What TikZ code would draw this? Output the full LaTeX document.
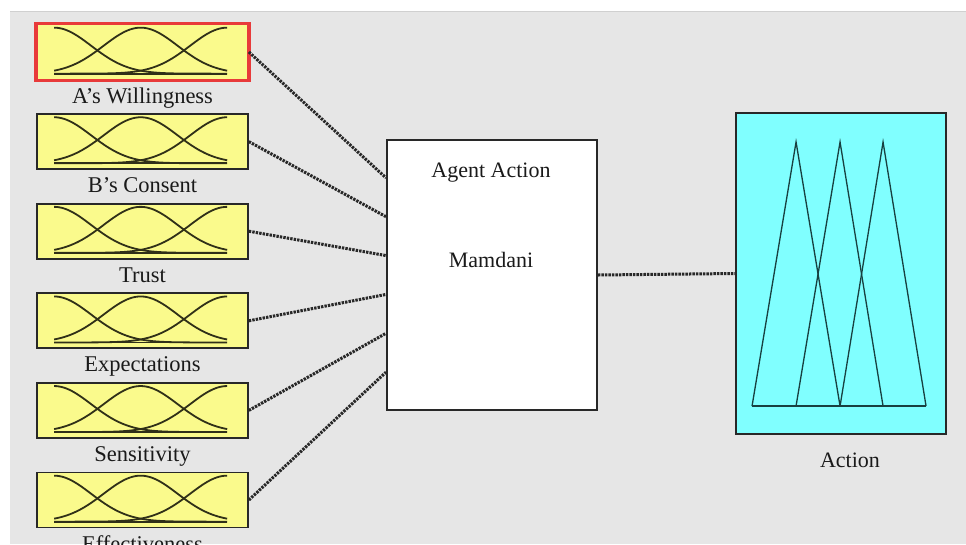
\documentclass[tikz,border=0pt]{standalone}
\usepackage{fontspec}
\setmainfont{Liberation Serif}
\usetikzlibrary{calc}
\definecolor{panel}{RGB}{230,230,230}
\definecolor{panelrule}{RGB}{208,208,208}
\definecolor{mfyellow}{RGB}{250,250,140}
\definecolor{mfcyan}{RGB}{128,255,255}
\definecolor{mfline}{RGB}{48,48,24}
\definecolor{tealline}{RGB}{24,64,64}
\definecolor{frame}{RGB}{40,40,40}
\definecolor{selred}{RGB}{232,58,58}
\definecolor{ink}{RGB}{26,26,26}
\begin{document}
\begin{tikzpicture}[x=1pt,y=-1pt,
  inbox/.style={draw=frame, line width=1.7pt, fill=mfyellow, minimum width=211pt, minimum height=55pt, inner sep=0pt},
  selbox/.style={draw=selred, line width=3.6pt},
  fisbox/.style={draw=frame, line width=1.9pt, fill=white, minimum width=210pt, minimum height=270pt, inner sep=0pt},
  outbox/.style={draw=frame, line width=1.9pt, fill=mfcyan, minimum width=210pt, minimum height=321pt, inner sep=0pt},
  lbl/.style={text=ink, font=\fontsize{22.5}{26}\selectfont, anchor=base, inner sep=0pt},
  conn/.style={draw=frame, line width=3pt, dash pattern=on 2.4pt off 1.1pt},
  mf/.style={draw=mfline, line width=1.8pt},
  tri/.style={draw=tealline, line width=1.3pt, line join=miter}]

% canvas
\useasboundingbox (0,0) rectangle (966,544);
\fill[white] (0,0) rectangle (966,544);
\fill[panel] (10,11) rectangle (966,544);
\draw[panelrule, line width=1pt] (10,11.5) -- (966,11.5);

% input variables with their Gaussian membership functions
\foreach \i/\yc/\lab in {1/52/{A’s Willingness}, 2/141.6/{B’s Consent}, 3/231.2/{Trust},
                         4/320.8/{Expectations}, 5/410.4/{Sensitivity}, 6/500/{Effectiveness}} {
  \node[inbox] (in\i) at (142.5,\yc) {};
  \node[lbl] (lab\i) at (142.5,\yc+51) {\lab};
  \begin{scope}[shift={(in\i.north west)}]
    \foreach \c in {18,104.5,191} {
      \draw[mf] plot[domain=18:191, samples=70, smooth] (\x, {50 - 46*exp(-(((\x-\c)/52.33)^2))});
    }
    \draw[mfline, line width=1.8pt] (18,50) -- (191,50);
  \end{scope}
}
% the selected input
\draw[selbox] (in1.north west) rectangle (in1.south east);

% inference system
\node[fisbox] (fis) at (492,275) {};
\node[lbl, font=\fontsize{22}{26}\selectfont] (fisname) at (491,177) {Agent Action};
\node[lbl, font=\fontsize{22}{26}\selectfont] (fistype) at (491,267) {Mamdani};

% output variable with triangular membership functions
\node[outbox] (out) at (841,273.5) {};
\node[lbl, font=\fontsize{22}{26}\selectfont] (outlab) at (850,467) {Action};
\begin{scope}[shift={(out.north west)}]
  \draw[tri] (17,294) -- (61,30) -- (105,294);
  \draw[tri] (61,294) -- (105,30) -- (148,294);
  \draw[tri] (105,294) -- (148,30) -- (191,294);
  \draw[tealline, line width=1.9pt] (17,294) -- (191,294);
\end{scope}

% connectors
\foreach \i in {1,...,6} {
  \draw[conn] (in\i.east) -- ($(fis.north west)!\i/7!(fis.south west)$);
}
\draw[conn] (fis.east) -- (out.west);
\end{tikzpicture}
\end{document}
